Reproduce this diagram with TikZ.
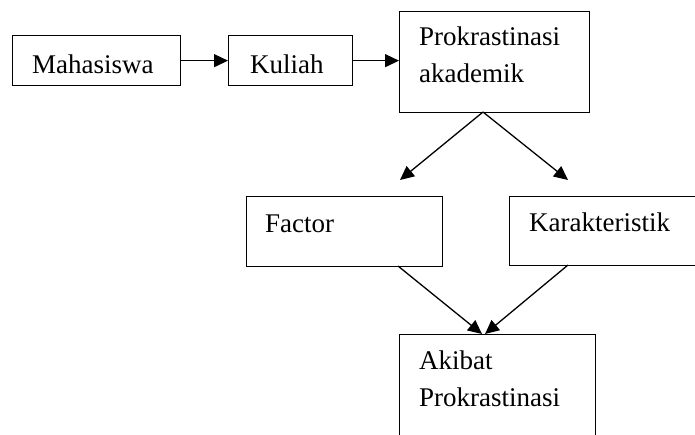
\documentclass[tikz,border=0pt]{standalone}
\usepackage{fontspec}
\setmainfont{Liberation Serif}
\usetikzlibrary{arrows.meta}
\begin{document}
\begin{tikzpicture}[x=1pt,y=-1pt,
  box/.style={draw,line width=1.3pt,inner sep=0pt,anchor=north west},
  txt/.style={anchor=base west,inner sep=0pt,font=\fontsize{27}{37}\selectfont,align=left},
  conn/.style={line width=1.3pt,-{Triangle[length=14pt,width=13pt]}}]
\useasboundingbox (0,0) rectangle (695,434);
% boxes
\node[box,minimum width=168pt,minimum height=50pt] (mah) at (12,35) {};
\node[box,minimum width=124pt,minimum height=50pt] (kul) at (228,35) {};
\node[box,minimum width=190pt,minimum height=101pt] (pro) at (399,11) {};
\node[box,minimum width=196pt,minimum height=70pt] (fac) at (246,196) {};
\node[box,minimum width=195pt,minimum height=69pt] (kar) at (509,196) {};
\node[box,minimum width=196pt,minimum height=110pt] (aki) at (399,334) {};
% texts (base anchor is the last line's baseline)
\node[txt] (tmah) at (32,73) {Mahasiswa};
\node[txt] (tkul) at (250,73) {Kuliah};
\node[txt] (tpro) at (419,82) {Prokrastinasi\\akademik};
\node[txt] (tfac) at (265,232) {Factor};
\node[txt] (tkar) at (529,231) {Karakteristik};
\node[txt] (taki) at (419,406) {Akibat\\Prokrastinasi};
% connector points
\coordinate (papex) at (483,112);
\coordinate (tl) at (400,180);
\coordinate (tr) at (568,180);
\coordinate (fb) at (398,266);
\coordinate (kb) at (568,265);
\coordinate (al) at (482,334);
\coordinate (ar) at (485,334);
% connectors
\draw[conn] (mah.east) -- (kul.west);
\draw[conn] (kul.east) -- (kul.east -| pro.west);
\draw[conn] (papex) -- (tl);
\draw[conn] (papex) -- (tr);
\draw[conn] (fb) -- (al);
\draw[conn] (kb) -- (ar);
\end{tikzpicture}
\end{document}
